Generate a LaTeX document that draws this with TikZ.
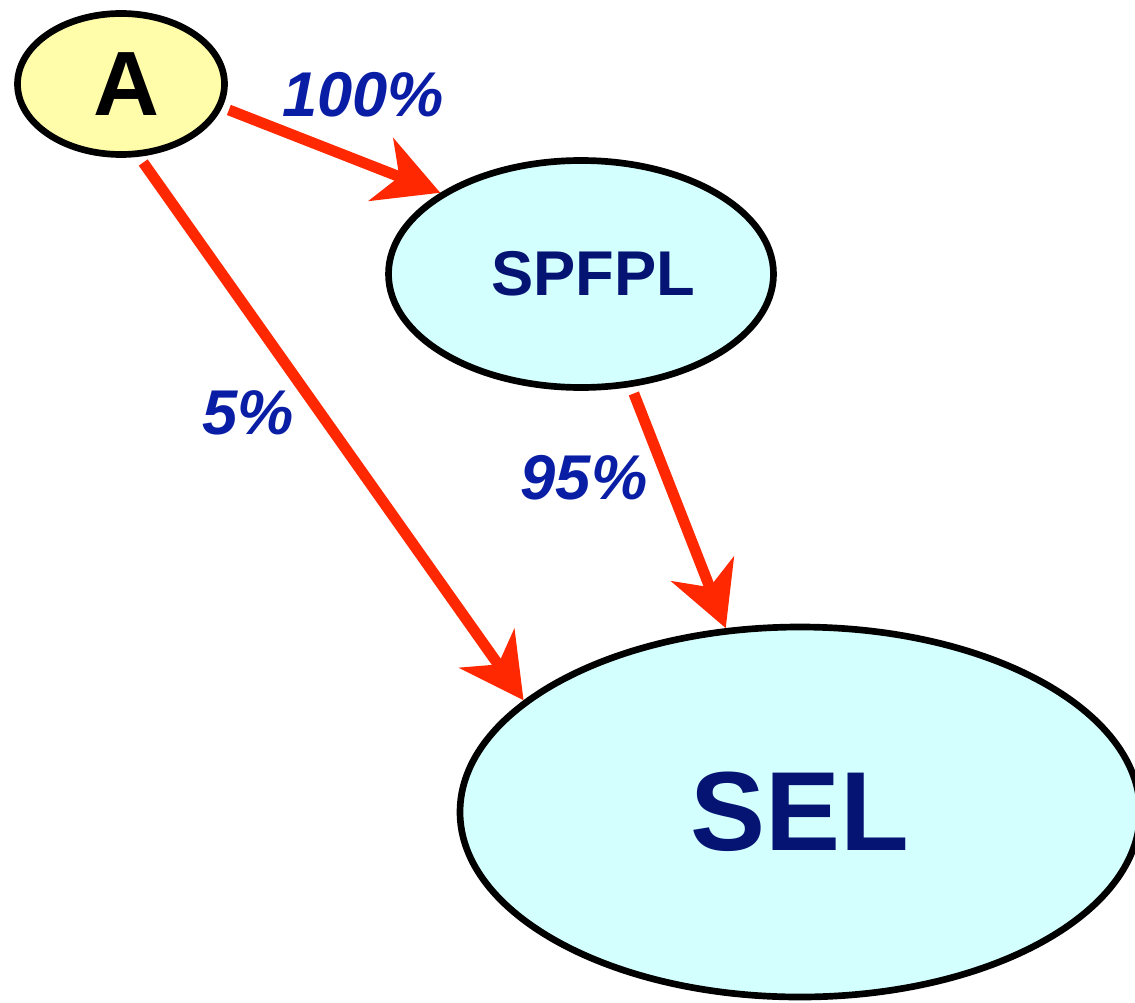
\documentclass[tikz,border=0pt]{standalone}
\usepackage{fontspec}
\setmainfont{Liberation Sans}
\usetikzlibrary{shapes.geometric,arrows.meta}
\definecolor{lemon}{RGB}{255,252,170}
\definecolor{icecyan}{RGB}{212,255,255}
\definecolor{arrred}{RGB}{255,40,0}
\definecolor{pctblue}{RGB}{10,30,165}
\definecolor{navy}{RGB}{5,20,115}
\begin{document}
\begin{tikzpicture}[oval/.style={ellipse,draw=black,line width=1.9pt,inner
        sep=0pt},arr/.style={draw=arrred,line width=3.1pt,shorten <=2pt,
        -{Stealth[length=18pt,width=19pt,inset=5.5pt]}},
        pct/.style={text=pctblue,font=\fontsize{18}{22}\selectfont\bfseries\itshape}]
    \useasboundingbox (0,0) rectangle (11.35,-10.02);
    \clip (0,0) rectangle (11.35,-10.02);
    % the ovals
    \node[oval,fill=lemon,minimum width=2.07cm,minimum height=1.41cm,
          font=\fontsize{26}{30}\selectfont\bfseries] (a) at (1.21,-0.84)
          {\hspace*{0.1cm}A};
    \node[oval,fill=icecyan,minimum width=3.85cm,minimum height=2.27cm,
          text=navy,font=\fontsize{18}{22}\selectfont\bfseries] (spfpl) at (5.81,-2.74)
          {\hspace*{0.24cm}SPFPL};
    \node[oval,fill=icecyan,minimum width=6.8cm,minimum height=3.70cm,
          text=navy,font=\fontsize{32}{38}\selectfont\bfseries] (sel) at (8.0,-8.12) {SEL};

    % the arrows
    \draw[arr] (a.-13.5) -- (spfpl.150);
    \draw[arr] (a.-76) -- (sel.158);
    \draw[arr] (spfpl.-66) -- (sel.112);

    % the percentages
    \node[pct] (p100) at (3.63,-0.95) {100\%};
    \node[pct] (p5) at (2.48,-4.13) {5\%};
    \node[pct] (p95) at (5.84,-4.78) {95\%};
  \end{tikzpicture}
\end{document}
